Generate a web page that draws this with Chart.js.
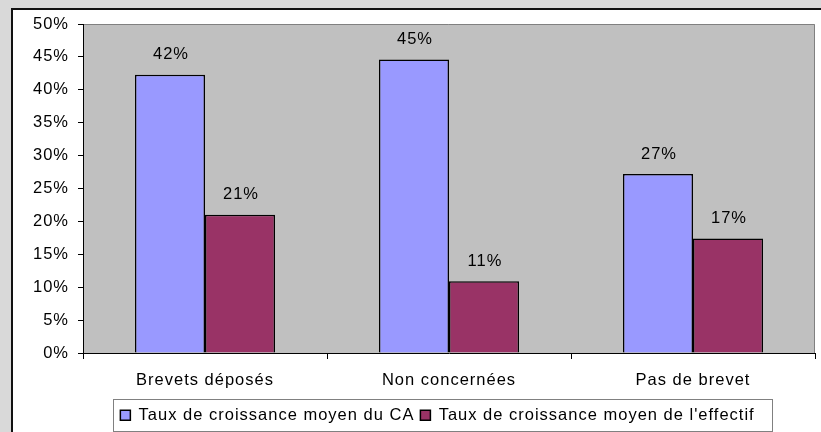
<!DOCTYPE html>
<html>
<head>
<meta charset="utf-8">
<script src="https://cdn.jsdelivr.net/npm/chart.js@4/dist/chart.umd.min.js"></script>
<style>
  html, body { margin: 0; padding: 0; background: #d9d9d9; }
  canvas { display: block; }
</style>
</head>
<body>
<canvas id="chart" width="821" height="432"></canvas>
<script>
/* ---------- data ---------- */
const categories = ["Brevets déposés", "Non concernées", "Pas de brevet"];
const seriesNames = ["Taux de croissance moyen du CA", "Taux de croissance moyen de l'effectif"];
const caGrowth = [42.3, 44.6, 27.2];       // %
const staffGrowth = [21.0, 10.9, 17.4];    // %
const yTicks = [0, 5, 10, 15, 20, 25, 30, 35, 40, 45, 50];

const FONT = { family: "'Liberation Sans', Arial, sans-serif", size: 16.5 };
const SPACING = "1px";

/* ---------- plugins ---------- */

// Excel-style frame, grey plot area, letter spacing
const framePlugin = {
  id: "frame",
  beforeUpdate(chart) {
    chart.ctx.letterSpacing = SPACING;
  },
  afterLayout(chart) {
    // legend sits under the plot area, not the whole canvas
    const lg = chart.legend;
    if (!lg) return;
    lg.left += 30; lg.right += 30;
    lg.top += 1.5; lg.bottom += 1.5;
  },
  beforeDraw(chart) {
    const ctx = chart.ctx;
    const { width, height, chartArea: a } = chart;
    ctx.save();
    ctx.fillStyle = "#d9d9d9";
    ctx.fillRect(0, 0, width, height);
    ctx.fillStyle = "#ffffff";
    ctx.fillRect(12, 9, width, height);
    ctx.strokeStyle = "#111";
    ctx.lineWidth = 2;
    ctx.beginPath();
    ctx.moveTo(12, height + 2);
    ctx.lineTo(12, 9);
    ctx.lineTo(width + 2, 9);
    ctx.stroke();

    // plot area
    ctx.fillStyle = "#c0c0c0";
    ctx.fillRect(a.left, a.top, a.right - a.left, a.bottom - a.top);
    ctx.strokeStyle = "#808080";
    ctx.lineWidth = 1;
    ctx.beginPath();
    ctx.moveTo(a.left, a.top + 0.5);
    ctx.lineTo(a.right - 0.5, a.top + 0.5);
    ctx.lineTo(a.right - 0.5, a.bottom);
    ctx.stroke();
    ctx.restore();
    ctx.letterSpacing = SPACING;
  },
  afterDatasetsDraw(chart) {
    // value labels above bars
    const ctx = chart.ctx;
    ctx.save();
    ctx.font = `${FONT.size}px ${FONT.family}`;
    ctx.letterSpacing = SPACING;
    ctx.fillStyle = "#000";
    ctx.textAlign = "center";
    ctx.textBaseline = "middle";
    chart.data.datasets.forEach((ds, i) => {
      chart.getDatasetMeta(i).data.forEach((bar, j) => {
        ctx.fillText(Math.round(ds.data[j]) + "%", bar.x + 1, bar.y - 20);
      });
    });
    ctx.restore();
  },
  afterDraw(chart) {
    // box around legend items
    const lg = chart.legend;
    if (!lg || !lg.legendHitBoxes || !lg.legendHitBoxes.length) return;
    const boxes = lg.legendHitBoxes;
    const left = Math.min(...boxes.map(b => b.left));
    const right = Math.max(...boxes.map(b => b.left + b.width));
    const cy = boxes[0].top + boxes[0].height / 2;
    const ctx = chart.ctx;
    ctx.save();
    ctx.strokeStyle = "#808080";
    ctx.lineWidth = 1;
    ctx.strokeRect(Math.round(left - 7) + 0.5, Math.round(cy - 16) + 0.5,
                   Math.round(right - left + 25), 32);
    ctx.restore();
  }
};

/* ---------- chart ---------- */

new Chart(document.getElementById("chart"), {
  type: "bar",
  data: {
    labels: categories,
    datasets: [
      {
        label: seriesNames[0],
        data: caGrowth,
        backgroundColor: "#9999ff",
        borderColor: "#000",
        borderWidth: 1.5
      },
      {
        label: seriesNames[1],
        data: staffGrowth,
        backgroundColor: "#993366",
        borderColor: "#000",
        borderWidth: 1.5
      }
    ]
  },
  options: {
    responsive: false,
    animation: false,
    devicePixelRatio: 1,
    layout: { padding: { left: 0, right: 6, top: 24, bottom: 0 } },
    datasets: {
      bar: { categoryPercentage: 0.574, barPercentage: 1 }
    },
    scales: {
      x: {
        grid: {
          offset: true,
          drawOnChartArea: false,
          tickLength: 6,
          tickColor: "#000"
        },
        border: { color: "#000", width: 1 },
        ticks: { color: "#000", font: FONT, padding: 12, maxRotation: 0 },
        afterFit(scale) { scale.height = 46.5; }
      },
      y: {
        min: 0,
        max: 50,
        afterBuildTicks(scale) {
          scale.ticks = yTicks.map(v => ({ value: v }));
        },
        grid: {
          drawOnChartArea: false,
          tickLength: 5,
          tickColor: "#000"
        },
        border: { color: "#000", width: 1 },
        ticks: {
          color: "#000",
          font: FONT,
          padding: 9,
          callback: v => v + "%"
        },
        afterFit(scale) { scale.width = 83; }
      }
    },
    plugins: {
      tooltip: { enabled: false },
      legend: {
        position: "bottom",
        labels: {
          color: "#000",
          font: FONT,
          boxWidth: 10,
          boxHeight: 10,
          padding: 6
        }
      }
    }
  },
  plugins: [framePlugin]
});
</script>
</body>
</html>
